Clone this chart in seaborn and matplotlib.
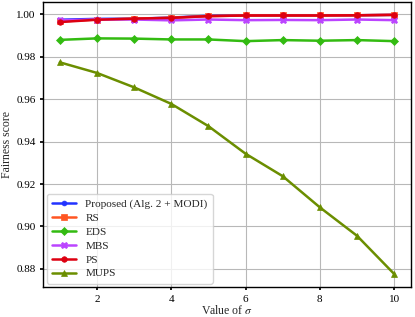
import matplotlib
matplotlib.use("Agg")
import matplotlib.pyplot as plt
import seaborn as sns
import pandas as pd

sigma = [1, 2, 3, 4, 5, 6, 7, 8, 9, 10]
proposed = [0.9975, 0.9979, 0.9980, 0.9985, 0.9994, 0.9995, 0.9996, 0.9996, 0.9996, 0.9998]
rs = [0.9967, 0.9976, 0.9980, 0.9984, 0.9992, 0.9995, 0.9995, 0.9995, 0.9996, 0.9998]
eds = [0.9880, 0.9887, 0.9886, 0.9882, 0.9882, 0.9874, 0.9879, 0.9876, 0.9879, 0.9874]
mbs = [0.9972, 0.9976, 0.9976, 0.9972, 0.9976, 0.9973, 0.9974, 0.9973, 0.9976, 0.9973]
ps = [0.9964, 0.9975, 0.9980, 0.9984, 0.9992, 0.9995, 0.9995, 0.9995, 0.9996, 0.9998]
mups = [0.9774, 0.9724, 0.9656, 0.9578, 0.9473, 0.9343, 0.9237, 0.9090, 0.8956, 0.8776]

names = ["Proposed (Alg. 2 + MODI)", "RS", "EDS", "MBS", "PS", "MUPS"]
series = [proposed, rs, eds, mbs, ps, mups]
colors = ["#2233ff", "#ff5522", "#33bb11", "#bb44ff", "#dd0011", "#6b8e00"]
markers = ["o", "s", "D", "X", "o", "^"]
msizes = [3.5, 4, 4, 4.5, 4, 4.5]

sns.set_theme(style="whitegrid", rc={
    "axes.edgecolor": "black",
    "axes.linewidth": 1.0,
    "grid.color": "#b8b8b8",
    "grid.linewidth": 0.8,
    "xtick.bottom": True,
    "ytick.left": True,
    "xtick.major.size": 2.5,
    "ytick.major.size": 2.5,
    "xtick.color": "black",
    "ytick.color": "black",
})
plt.rcParams["font.family"] = ["Liberation Serif", "DejaVu Serif"]
plt.rcParams["mathtext.fontset"] = "stix"

fig, ax = plt.subplots(figsize=(4.15, 3.17), dpi=100)
fig.subplots_adjust(left=0.104, right=0.990, top=0.994, bottom=0.095)

for name, vals, c, m, ms in zip(names, series, colors, markers, msizes):
    df = pd.DataFrame({"sigma": sigma, "score": vals})
    sns.lineplot(data=df, x="sigma", y="score", ax=ax, color=c, marker=m,
                 markersize=ms, markeredgewidth=0.5, markeredgecolor=c,
                 linewidth=1.8, label=name)

ax.set_xlabel(r"Value of $\sigma$", fontsize=8.5, labelpad=0.5)
ax.set_ylabel("Fairness score", fontsize=8.5, labelpad=2)
ax.set_xticks([2, 4, 6, 8, 10])
ax.set_yticks([0.88, 0.90, 0.92, 0.94, 0.96, 0.98, 1.00])
ax.yaxis.set_major_formatter(matplotlib.ticker.FormatStrFormatter("%.2f"))
ax.tick_params(labelsize=8, pad=3)
ax.legend(loc="lower left", fontsize=8.1, frameon=True, framealpha=0.8,
          handlelength=2.2, borderpad=0.45, labelspacing=0.36,
          borderaxespad=0.3)
fig.savefig("out.png", dpi=100)
